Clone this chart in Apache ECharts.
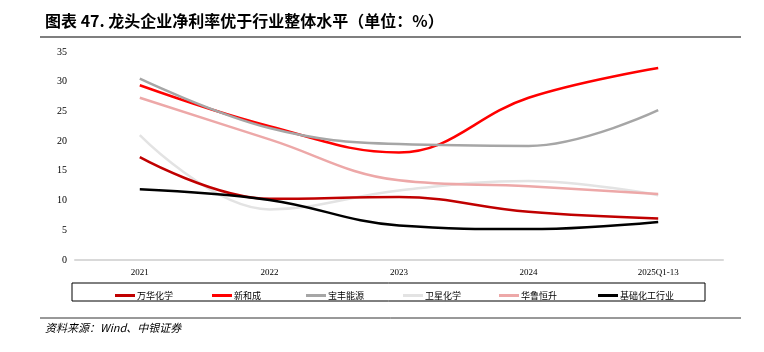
<!DOCTYPE html>
<html>
<head>
<meta charset="UTF-8">
<title>龙头企业净利率</title>
<script src="https://cdn.jsdelivr.net/npm/echarts@6/dist/echarts.min.js"></script>
<style>
  html, body { margin: 0; padding: 0; background: #fff; }
  #main { width: 764px; height: 352px; }
</style>
</head>
<body>
<div id="main"></div>
<script type="text/javascript">
// 数据
var categories = ['2021', '2022', '2023', '2024', '2025Q1-13'];
var wanhua = [17.3, 10.3, 10.6, 8.1, 7.0];     // 万华化学
var xinhecheng = [29.4, 22.5, 18.1, 27.3, 32.3]; // 新和成
var baofeng = [30.5, 22.2, 19.5, 19.2, 25.2];  // 宝丰能源
var weixing = [21.0, 8.5, 11.7, 13.3, 10.9];   // 卫星化学
var hualu = [27.3, 20.3, 13.4, 12.4, 11.1];    // 华鲁恒升
var industry = [11.9, 10.1, 5.8, 5.2, 6.4];    // 基础化工行业
var yTicks = [0, 35, 5];

var names = ['万华化学', '新和成', '宝丰能源', '卫星化学', '华鲁恒升', '基础化工行业'];
var colors = ['#c00000', '#ff0000', '#a6a6a6', '#e3e3e3', '#eda8a8', '#000000'];
var datas = [wanhua, xinhecheng, baofeng, weixing, hualu, industry];
var legendLeft = [110, 207, 301, 398, 494, 593];

var myChart = echarts.init(document.getElementById('main'));

var series = [];
var legends = [];
for (var i = 0; i < names.length; i++) {
  series.push({
    name: names[i],
    type: 'line',
    smooth: 0.4,
    symbol: 'none',
    data: datas[i],
    lineStyle: { width: 2.5, color: colors[i] },
    itemStyle: { color: colors[i] },
    z: i == 3 ? 1 : 2
  });
  legends.push({
    data: [names[i]],
    left: legendLeft[i],
    top: 286,
    itemWidth: 20,
    itemHeight: 3,
    itemGap: 2,
    icon: 'rect',
    textStyle: { fontFamily: 'Noto Sans CJK SC', fontSize: 9, color: '#000', padding: [0, 0, 0, -3] }
  });
}

var option = {
  animation: false,
  backgroundColor: '#fff',
  grid: { left: 75, right: 41, top: 52, bottom: 92 },
  legend: legends,
  xAxis: {
    type: 'category',
    data: categories,
    boundaryGap: true,
    axisLine: { lineStyle: { color: '#d9d9d9', width: 2 } },
    axisTick: { show: false },
    axisLabel: { fontFamily: 'Liberation Serif', fontSize: 9, color: '#000', margin: 8 }
  },
  yAxis: {
    type: 'value',
    min: yTicks[0],
    max: yTicks[1],
    interval: yTicks[2],
    splitLine: { show: false },
    axisLine: { show: false },
    axisTick: { show: false },
    axisLabel: { fontFamily: 'Liberation Serif', fontSize: 10, color: '#000', margin: 8 }
  },
  graphic: [
    {
      type: 'text', left: 45, top: 13,
      style: { text: '图表 47. 龙头企业净利率优于行业整体水平（单位：%）', font: 'bold 16px "Noto Sans CJK SC"', fill: '#000' }
    },
    {
      type: 'line', shape: { x1: 40, y1: 37, x2: 741, y2: 37 },
      style: { stroke: '#555', lineWidth: 1.5 }
    },
    {
      type: 'rect', shape: { x: 72, y: 283, width: 633, height: 18 },
      style: { fill: 'none', stroke: '#000', lineWidth: 1 }
    },
    {
      type: 'line', shape: { x1: 40, y1: 318, x2: 741, y2: 318 },
      style: { stroke: '#333', lineWidth: 1 }
    },
    {
      type: 'text', left: 45, top: 322,
      style: { text: '资料来源：Wind、中银证券', font: 'italic 11px "Noto Sans CJK SC"', fill: '#000' }
    }
  ],
  series: series
};

myChart.setOption(option);
</script>
</body>
</html>
